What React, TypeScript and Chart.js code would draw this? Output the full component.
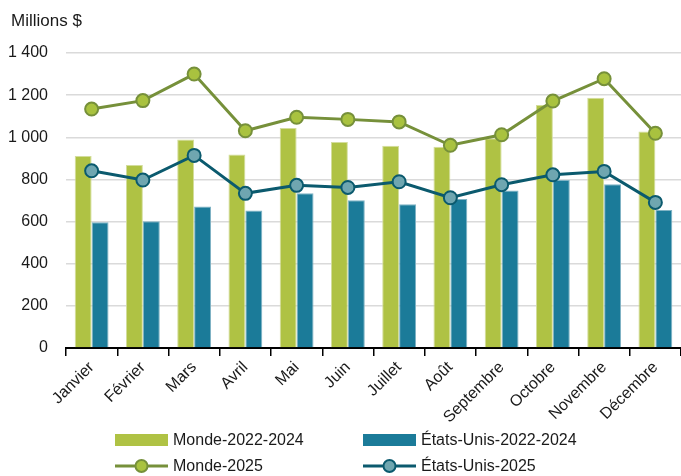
import React, { useEffect, useRef } from "react";
import { Chart, registerables } from "chart.js";

Chart.register(...registerables);

const categories = ["Janvier", "Février", "Mars", "Avril", "Mai", "Juin", "Juillet", "Août", "Septembre", "Octobre", "Novembre", "Décembre"];
const monde2224 = [911, 868, 989, 918, 1044, 978, 960, 955, 995, 1153, 1188, 1028];
const eu2224 = [597, 601, 672, 653, 735, 701, 682, 707, 748, 797, 777, 655];
const monde2025 = [1134, 1174, 1300, 1031, 1095, 1085, 1073, 962, 1012, 1172, 1278, 1019];
const eu2025 = [841, 797, 914, 734, 772, 762, 789, 713, 775, 822, 838, 691];
const yTicks = [0, 200, 400, 600, 800, 1000, 1200, 1400];
const unitLabel = "Millions $";
const seriesNames = ["Monde-2022-2024", "États-Unis-2022-2024", "Monde-2025", "États-Unis-2025"];

const GREEN_BAR = "#afc244";
const BLUE_BAR = "#1b7b99";
const GREEN_LINE = "#76903a";
const GREEN_PT = "#a9c23f";
const BLUE_LINE = "#0b5a6e";
const BLUE_PT = "#6fa6b0";
const FONT = "'Liberation Sans', Arial, sans-serif";
const TEXT = "#1a1a1a";

const fmt = (v: number) => {
  const s = String(v);
  return v >= 1000 ? s.slice(0, s.length - 3) + " " + s.slice(s.length - 3) : s;
};

const customPlugin = {
  id: "customLegendTitle",
  afterDraw(chart: any) {
    const ctx = chart.ctx;
    ctx.save();
    ctx.fillStyle = TEXT;
    ctx.font = "17px " + FONT;
    ctx.textBaseline = "middle";
    ctx.textAlign = "left";
    ctx.fillText(unitLabel, 11, 21);

    const rows = [440, 466];
    const cols = [115, 363];
    const boxW = 53;
    ctx.fillStyle = GREEN_BAR;
    ctx.fillRect(cols[0], rows[0] - 6, boxW, 12);
    ctx.fillStyle = BLUE_BAR;
    ctx.fillRect(cols[1], rows[0] - 6, boxW, 12);
    const drawLine = (x: number, y: number, lc: string, pc: string) => {
      ctx.strokeStyle = lc;
      ctx.lineWidth = 3;
      ctx.beginPath();
      ctx.moveTo(x, y);
      ctx.lineTo(x + boxW, y);
      ctx.stroke();
      ctx.beginPath();
      ctx.arc(x + boxW / 2, y, 6, 0, Math.PI * 2);
      ctx.fillStyle = pc;
      ctx.fill();
      ctx.lineWidth = 2;
      ctx.stroke();
    };
    drawLine(cols[0], rows[1], GREEN_LINE, GREEN_PT);
    drawLine(cols[1], rows[1], BLUE_LINE, BLUE_PT);
    ctx.fillStyle = TEXT;
    ctx.font = "16px " + FONT;
    ctx.fillText(seriesNames[0], cols[0] + 58, rows[0] + 1);
    ctx.fillText(seriesNames[1], cols[1] + 58, rows[0] + 1);
    ctx.fillText(seriesNames[2], cols[0] + 58, rows[1] + 1);
    ctx.fillText(seriesNames[3], cols[1] + 58, rows[1] + 1);
    ctx.restore();
  },
};

export default function App() {
  const ref = useRef<HTMLCanvasElement | null>(null);
  useEffect(() => {
    if (!ref.current) return;
    const chart = new Chart(ref.current, {
      type: "bar",
      data: {
        labels: categories,
        datasets: [
          {
            type: "line",
            label: seriesNames[2],
            data: monde2025,
            borderColor: GREEN_LINE,
            borderWidth: 3,
            pointBackgroundColor: GREEN_PT,
            pointBorderColor: GREEN_LINE,
            pointBorderWidth: 2,
            pointRadius: 6.5,
            tension: 0,
            order: 0,
          } as any,
          {
            type: "line",
            label: seriesNames[3],
            data: eu2025,
            borderColor: BLUE_LINE,
            borderWidth: 3,
            pointBackgroundColor: BLUE_PT,
            pointBorderColor: BLUE_LINE,
            pointBorderWidth: 2,
            pointRadius: 6.5,
            tension: 0,
            order: 0,
          } as any,
          {
            type: "bar",
            label: seriesNames[0],
            data: monde2224,
            backgroundColor: GREEN_BAR,
            borderColor: "#d3dd9c",
            borderWidth: 1,
            categoryPercentage: 0.66,
            barPercentage: 1,
            order: 1,
          } as any,
          {
            type: "bar",
            label: seriesNames[1],
            data: eu2224,
            backgroundColor: BLUE_BAR,
            borderColor: "#7fb3c4",
            borderWidth: 1,
            categoryPercentage: 0.66,
            barPercentage: 1,
            order: 1,
          } as any,
        ],
      },
      options: {
        animation: false,
        responsive: true,
        maintainAspectRatio: false,
        layout: { autoPadding: false, padding: { top: 53, right: -6, left: 0, bottom: 0 } },
        plugins: {
          legend: { display: false },
          tooltip: { enabled: false },
          title: { display: false },
        },
        scales: {
          x: {
            offset: true,
            grid: {
              display: true,
              drawOnChartArea: false,
              drawTicks: true,
              tickLength: 8,
              offset: true,
              color: "#000",
              lineWidth: 1.5,
            },
            border: { display: true, color: "#000", width: 2 },
            ticks: {
              color: TEXT,
              font: { family: FONT, size: 16 },
              maxRotation: 45,
              minRotation: 45,
              padding: 2,
              autoSkip: false,
            },
            afterFit: (scale: any) => {
              scale.height = 128;
              scale.paddingLeft = 0;
              scale.paddingRight = -6;
            },
          },
          y: {
            min: 0,
            max: 1400,
            afterBuildTicks: (scale: any) => {
              scale.ticks = yTicks.map((v) => ({ value: v }));
            },
            grid: { color: "#dadada", lineWidth: 1.5, drawTicks: false },
            border: { display: false },
            ticks: {
              color: TEXT,
              font: { family: FONT, size: 16 },
              padding: 18,
              callback: (v: any) => fmt(Number(v)),
            },
            afterFit: (scale: any) => {
              scale.width = 66;
              scale.paddingRight = -6;
            },
          },
        },
      },
      plugins: [customPlugin],
    });
    return () => chart.destroy();
  }, []);
  return (
    <div style={{ position: "fixed", left: 0, top: 0, width: 681, height: 476, background: "#fff" }}>
      <canvas ref={ref} />
    </div>
  );
}
